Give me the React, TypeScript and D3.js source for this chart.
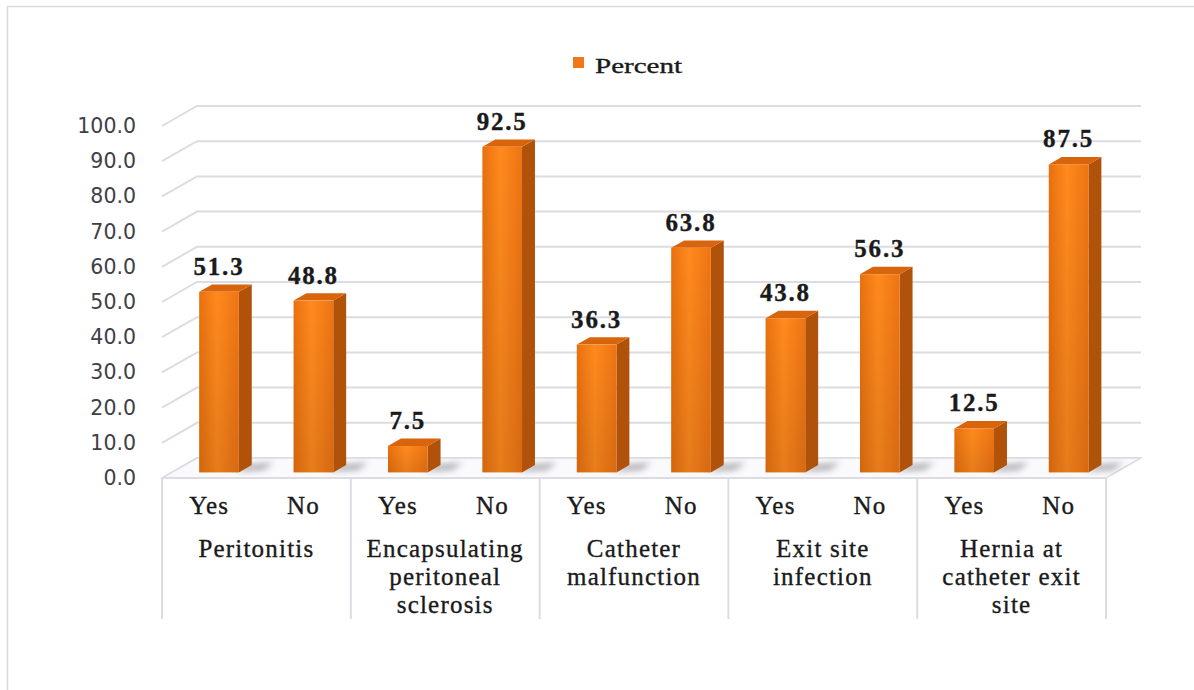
import React from "react";
import * as d3 from "d3";

// Complication groups, each with a Yes / No split (percent of patients)
const categories = [
  "Peritonitis",
  "Encapsulating\nperitoneal\nsclerosis",
  "Catheter\nmalfunction",
  "Exit site\ninfection",
  "Hernia at\ncatheter exit\nsite",
];
const answers = ["Yes", "No"];
const yesValues = [51.3, 7.5, 36.3, 43.8, 12.5];
const noValues = [48.8, 92.5, 63.8, 56.3, 87.5];
const yTicks = [0, 10, 20, 30, 40, 50, 60, 70, 80, 90, 100];
const seriesName = "Percent";

const W = 1194;
const H = 690;
// 3-D depth offsets of the plot box (front plane -> back wall)
const DX = 35;
const DY = 20;
const BAR_D0 = 0.28;
const BAR_D1 = 0.65;

const SERIF = "'Liberation Serif', 'Times New Roman', serif";
const SANS = "'DejaVu Sans', Verdana, sans-serif";

export default function App() {
  const x0 = d3.scaleBand<string>().domain(categories).range([162, 1106]).padding(0);
  const x1 = d3.scaleBand<string>().domain(answers).range([0, x0.bandwidth()]).padding(0);
  const y = d3.scaleLinear().domain([0, 100]).range([478, 126]);
  const barW = x1.bandwidth() * 0.42;

  const proj = (x: number, v: number, d: number): [number, number] => [x + d * DX, y(v) - d * DY];
  const pts = (arr: [number, number][]) => arr.map((p) => p.join(",")).join(" ");

  const bars = categories.flatMap((c, i) =>
    answers.map((a, j) => {
      const v = j === 0 ? yesValues[i] : noValues[i];
      const xl = (x0(c) as number) + (x1(a) as number) + (x1.bandwidth() - barW) / 2;
      const xr = xl + barW;
      return { key: `${i}-${j}`, v, xl, xr };
    })
  );

  const [xMin, xMax] = x0.range();
  const labelInk = { fill: "#1a1a1a", stroke: "#1a1a1a", strokeWidth: 0.35 };

  return (
    <svg
      width={W}
      height={H}
      viewBox={`0 0 ${W} ${H}`}
      style={{ position: "absolute", left: 0, top: 0, background: "#fff" }}
    >
      <defs>
        <linearGradient id="barFront" x1="0" y1="0" x2="1" y2="0">
          <stop offset="0%" stopColor="#E8700E" />
          <stop offset="45%" stopColor="#FF8A1E" />
          <stop offset="100%" stopColor="#EE7412" />
        </linearGradient>
        <linearGradient id="barShade" x1="0" y1="0" x2="0" y2="1">
          <stop offset="0%" stopColor="#000" stopOpacity="0" />
          <stop offset="100%" stopColor="#000" stopOpacity="0.1" />
        </linearGradient>
        <filter id="soft" x="-50%" y="-50%" width="200%" height="200%">
          <feGaussianBlur stdDeviation="3" />
        </filter>
      </defs>

      {/* outer frame */}
      <rect x={7.5} y={6.5} width={1200} height={700} fill="none" stroke="#D9D9D9" strokeWidth={1.5} />

      {/* legend */}
      <rect x={573} y={57} width={11} height={11} fill="#F07818" />
      <text x={595} y={73} fontFamily={SERIF} fontSize={21} textLength={87} lengthAdjust="spacingAndGlyphs" {...labelInk}>
        {seriesName}
      </text>

      {/* gridlines: side-wall diagonal + back wall */}
      {yTicks.map((t) => {
        const a = proj(xMin, t, 0);
        const b = proj(xMin, t, 1);
        const c = proj(xMax, t, 1);
        return (
          <polyline
            key={`g${t}`}
            points={pts([a, b, c])}
            fill="none"
            stroke="#DCDCE2"
            strokeWidth={2}
          />
        );
      })}

      {/* floor */}
      <polygon
        points={pts([proj(xMin, 0, 0), proj(xMax, 0, 0), proj(xMax, 0, 1), proj(xMin, 0, 1)])}
        fill="#FAFAFC"
        stroke="#DCDCE2"
        strokeWidth={1.5}
      />

      {/* y tick labels */}
      {yTicks.map((t) => (
        <text
          key={`t${t}`}
          x={136}
          y={y(t)}
          textAnchor="end"
          dominantBaseline="central"
          fontFamily={SANS}
          fontSize={20.5}
          fill="#404048"
        >
          {t.toFixed(1)}
        </text>
      ))}

      {/* floor shadows */}
      {bars.map((b) => (
        <polygon
          key={`s${b.key}`}
          points={pts([
            proj(b.xr - 6, 0, BAR_D0 + 0.05),
            proj(b.xr + 20, 0, BAR_D0 + 0.12),
            proj(b.xr + 18, 0, BAR_D1 + 0.12),
            proj(b.xr - 4, 0, BAR_D1),
          ])}
          fill="#8a8a92"
          opacity={0.7}
          filter="url(#soft)"
        />
      ))}

      {/* 3-D bars */}
      {bars.map((b) => {
        const fTL = proj(b.xl, b.v, BAR_D0);
        const fBR = proj(b.xr, 0, BAR_D0);
        return (
          <g key={`b${b.key}`}>
            <polygon
              points={pts([proj(b.xr, b.v, BAR_D0), proj(b.xr, b.v, BAR_D1), proj(b.xr, 0, BAR_D1), proj(b.xr, 0, BAR_D0)])}
              fill="#B1520B"
            />
            <polygon
              points={pts([proj(b.xl, b.v, BAR_D0), proj(b.xr, b.v, BAR_D0), proj(b.xr, b.v, BAR_D1), proj(b.xl, b.v, BAR_D1)])}
              fill="#D8650C"
            />
            <rect x={fTL[0]} y={fTL[1]} width={fBR[0] - fTL[0]} height={fBR[1] - fTL[1]} fill="url(#barFront)" />
            <rect x={fTL[0]} y={fTL[1]} width={fBR[0] - fTL[0]} height={fBR[1] - fTL[1]} fill="url(#barShade)" />
          </g>
        );
      })}

      {/* value labels */}
      {bars.map((b) => {
        const [cx] = proj((b.xl + b.xr) / 2, b.v, BAR_D0);
        const ty = y(b.v) - BAR_D0 * DY - 17;
        return (
          <text
            key={`v${b.key}`}
            x={cx}
            y={ty}
            textAnchor="middle"
            fontFamily={SERIF}
            fontWeight="bold"
            fontSize={25}
            letterSpacing={1.8}
            {...labelInk}
          >
            {b.v.toFixed(1)}
          </text>
        );
      })}

      {/* category axis: baseline and group dividers */}
      <line x1={xMin} x2={xMax} y1={478} y2={478} stroke="#DCDCE2" strokeWidth={2} />
      {categories.map((c) => (
        <line key={`d${c}`} x1={x0(c)} x2={x0(c)} y1={478} y2={619} stroke="#DCDCE2" strokeWidth={2} />
      ))}
      <line x1={xMax} x2={xMax} y1={478} y2={619} stroke="#DCDCE2" strokeWidth={2} />

      {/* Yes / No labels */}
      {categories.flatMap((c) =>
        answers.map((a) => (
          <text
            key={`a${c}${a}`}
            x={(x0(c) as number) + (x1(a) as number) + x1.bandwidth() / 2}
            y={514}
            textAnchor="middle"
            fontFamily={SERIF}
            fontSize={25}
            letterSpacing={1.2}
            {...labelInk}
          >
            {a}
          </text>
        ))
      )}

      {/* group names */}
      {categories.map((c) =>
        c.split("\n").map((line, k) => (
          <text
            key={`c${c}${k}`}
            x={(x0(c) as number) + x0.bandwidth() / 2}
            y={557 + k * 28}
            textAnchor="middle"
            fontFamily={SERIF}
            fontSize={25}
            letterSpacing={1.2}
            {...labelInk}
          >
            {line}
          </text>
        ))
      )}
    </svg>
  );
}
